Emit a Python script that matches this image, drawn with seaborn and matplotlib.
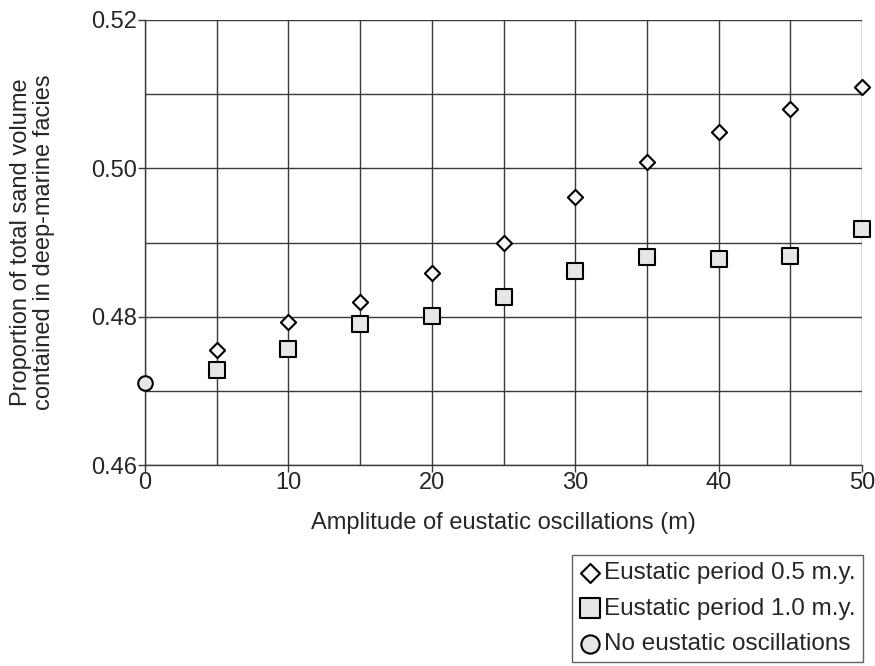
import matplotlib
matplotlib.use("Agg")
import matplotlib.pyplot as plt
import seaborn as sns
import pandas as pd
import numpy as np

amp_05 = [5, 10, 15, 20, 25, 30, 35, 40, 45, 50]
val_05 = [0.4755, 0.4793, 0.4820, 0.4859, 0.4899, 0.4962, 0.5009, 0.5049, 0.5080, 0.5110]
amp_10 = [5, 10, 15, 20, 25, 30, 35, 40, 45, 50]
val_10 = [0.4728, 0.4756, 0.4790, 0.4801, 0.4826, 0.4861, 0.4881, 0.4878, 0.4882, 0.4918]
amp_0 = [0]
val_0 = [0.4711]
labels = ["Eustatic period 0.5 m.y.", "Eustatic period 1.0 m.y.", "No eustatic oscillations"]

df = pd.concat([
    pd.DataFrame({"x": amp_05, "y": val_05, "series": labels[0]}),
    pd.DataFrame({"x": amp_10, "y": val_10, "series": labels[1]}),
    pd.DataFrame({"x": amp_0, "y": val_0, "series": labels[2]}),
])

sns.set_theme(style="white")
plt.rcParams["font.family"] = ["Liberation Sans", "DejaVu Sans"]

fig = plt.figure(figsize=(8.75, 6.66), dpi=100)
ax = fig.add_axes([145/875, 1-465/666, (862-145)/875, (465-20)/666])

markers = {labels[0]: "D", labels[1]: "s", labels[2]: "o"}
sizes = {labels[0]: 60, labels[1]: 140, labels[2]: 110}
fills = {labels[0]: "#f7f7f7", labels[1]: "#e6e6e6", labels[2]: "#e6e6e6"}
for lab in labels:
    sub = df[df.series == lab]
    sns.scatterplot(data=sub, x="x", y="y", ax=ax, marker=markers[lab],
                    s=sizes[lab], color=fills[lab], edgecolor="black",
                    linewidth=1.5, label=lab, zorder=3, clip_on=False)

ax.set_xlim(0, 50)
ax.set_ylim(0.46, 0.52)
ax.set_xticks(np.arange(0, 51, 10))
ax.set_xticks(np.arange(0, 51, 5), minor=True)
ax.set_yticks([0.46, 0.48, 0.50, 0.52])
ax.set_yticks(np.arange(0.46, 0.5201, 0.01), minor=True)
ax.set_yticklabels(["0.46", "0.48", "0.50", "0.52"])
ax.set_xticklabels(["0", "10", "20", "30", "40", "50"])
ax.grid(True, which="both", color="#3a3a3a", linewidth=1.0)
ax.set_axisbelow(True)
for s in ["top", "right"]:
    ax.spines[s].set_visible(False)
for s in ["left", "bottom"]:
    ax.spines[s].set_color("#3a3a3a")
    ax.spines[s].set_linewidth(1.0)
ax.tick_params(axis="both", which="major", direction="out", length=5, width=1,
               color="#3a3a3a", labelsize=17, pad=0, left=True, bottom=True)
ax.tick_params(axis="both", which="minor", length=0)
ax.tick_params(axis="y", which="major", pad=1)

ax.set_xlabel("Amplitude of eustatic oscillations (m)", fontsize=17, labelpad=13)
ax.set_ylabel("Proportion of total sand volume\ncontained in deep-marine facies",
              fontsize=17, labelpad=26, linespacing=1.05)

ax.get_legend().remove()
h, l = ax.get_legend_handles_labels()
leg = fig.legend(h, l, loc="upper left", bbox_to_anchor=(572/875, 1-555/666),
                 frameon=True, fancybox=False, fontsize=17.5, handletextpad=0.1,
                 borderpad=0.3, labelspacing=0.55, borderaxespad=0, handlelength=0.9,
                 markerscale=1.25)
leg.get_frame().set_edgecolor("#3a3a3a")
leg.get_frame().set_linewidth(1.0)

fig.savefig("out.png", dpi=100)
